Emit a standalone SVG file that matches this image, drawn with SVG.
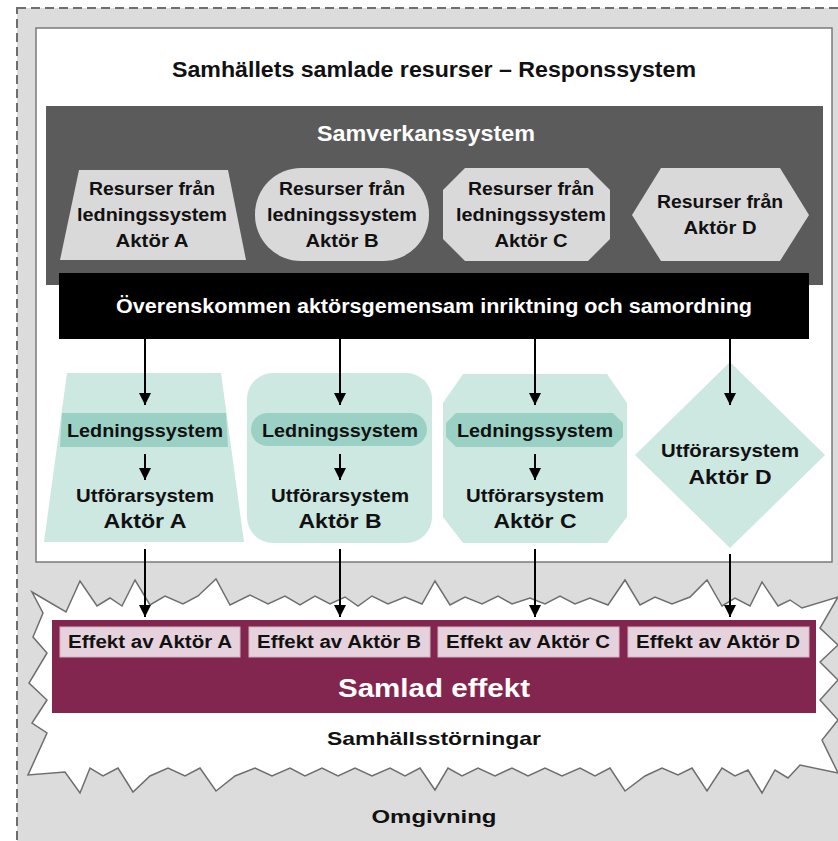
<svg xmlns="http://www.w3.org/2000/svg" width="838" height="841" viewBox="0 0 838 841">
<defs>
<style>
text{font-family:"Liberation Sans",Arial,sans-serif;font-weight:bold;text-anchor:middle;fill:#111}
.res{fill:#d9d9d9}
.grn{fill:#cde7e1}
.band{fill:#9bd1c4}
.eff{fill:#e6d2dc;stroke:#cfb3c0;stroke-width:1}
.conn{stroke:#000;stroke-width:2;fill:none;marker-end:url(#ah)}
.t18{font-size:19px}
.t19{font-size:19px}
.lg{font-size:18.5px}
.ak{font-size:21px}
.ef{font-size:17.5px}
.w{fill:#fff}
</style>
<marker id="ah" viewBox="0 0 10 10" refX="10" refY="5" markerWidth="6" markerHeight="6" markerUnits="strokeWidth" orient="auto">
<path d="M0,0 L10,5 L0,10 z" fill="#000"/>
</marker>
</defs>

<g id="omgivning">
<rect x="17" y="8" width="840" height="850" fill="#dcdcdc" stroke="#6e6e6e" stroke-width="2" stroke-dasharray="9,5"/>
<text x="434" y="823" class="t19" textLength="125" lengthAdjust="spacingAndGlyphs">Omgivning</text>
</g>

<g id="responssystem">
<rect x="36" y="28" width="796" height="534" fill="#fff" stroke="#7a7a7a" stroke-width="1.5"/>
<text x="434" y="77" style="font-size:22px" textLength="524" lengthAdjust="spacingAndGlyphs">Samhällets samlade resurser – Responssystem</text>
</g>

<g id="samverkanssystem">
<rect x="46" y="106" width="777" height="179" fill="#5b5b5b"/>
<text x="426" y="141" style="font-size:22px;fill:#fff" textLength="218" lengthAdjust="spacingAndGlyphs">Samverkanssystem</text>
</g>

<g id="resurser-a">
<polygon class="res" points="79,170 228,170 246,260 60,260"/>
<text x="152" y="195" class="t18" textLength="126" lengthAdjust="spacingAndGlyphs">Resurser från</text>
<text x="152" y="221" class="t18" textLength="150" lengthAdjust="spacingAndGlyphs">ledningssystem</text>
<text x="152" y="247" class="t18" textLength="73" lengthAdjust="spacingAndGlyphs">Aktör A</text>
</g>
<g id="resurser-b">
<rect class="res" x="255" y="168" width="174" height="93" rx="46" ry="46"/>
<text x="342" y="195" class="t18" textLength="126" lengthAdjust="spacingAndGlyphs">Resurser från</text>
<text x="342" y="221" class="t18" textLength="150" lengthAdjust="spacingAndGlyphs">ledningssystem</text>
<text x="342" y="247" class="t18" textLength="73" lengthAdjust="spacingAndGlyphs">Aktör B</text>
</g>
<g id="resurser-c">
<polygon class="res" points="465,168 588,168 610,190 610,239 588,261 465,261 443,239 443,190"/>
<text x="531" y="195" class="t18" textLength="126" lengthAdjust="spacingAndGlyphs">Resurser från</text>
<text x="531" y="221" class="t18" textLength="150" lengthAdjust="spacingAndGlyphs">ledningssystem</text>
<text x="531" y="247" class="t18" textLength="73" lengthAdjust="spacingAndGlyphs">Aktör C</text>
</g>
<g id="resurser-d">
<polygon class="res" points="661,168 780,168 809,215 780,261 661,261 632,215"/>
<text x="720" y="208" class="t18" textLength="126" lengthAdjust="spacingAndGlyphs">Resurser från</text>
<text x="720" y="234" class="t18" textLength="73" lengthAdjust="spacingAndGlyphs">Aktör D</text>
</g>

<g id="inriktning">
<rect x="59" y="273" width="750" height="66" fill="#000"/>
<text x="434" y="313" style="font-size:20px;fill:#fff" textLength="636" lengthAdjust="spacingAndGlyphs">Överenskommen aktörsgemensam inriktning och samordning</text>
</g>

<g id="aktor-a">
<polygon class="grn" points="67,373 221,373 244,542 44,542"/>
<polygon class="band" points="62,413 226,413 228,447 60,447"/>
<text x="145" y="437" class="lg" textLength="156" lengthAdjust="spacingAndGlyphs">Ledningssystem</text>
<text x="145" y="502" class="lg" textLength="138" lengthAdjust="spacingAndGlyphs">Utförarsystem</text>
<text x="145" y="528" class="ak" textLength="83" lengthAdjust="spacingAndGlyphs">Aktör A</text>
</g>
<g id="aktor-b">
<rect class="grn" x="247" y="373" width="185" height="170" rx="26" ry="26"/>
<rect class="band" x="251" y="413" width="176" height="33" rx="16.5" ry="16.5"/>
<text x="340" y="437" class="lg" textLength="156" lengthAdjust="spacingAndGlyphs">Ledningssystem</text>
<text x="340" y="502" class="lg" textLength="138" lengthAdjust="spacingAndGlyphs">Utförarsystem</text>
<text x="340" y="528" class="ak" textLength="83" lengthAdjust="spacingAndGlyphs">Aktör B</text>
</g>
<g id="aktor-c">
<polygon class="grn" points="463,374 607,374 627,403 627,517 607,543 463,543 443,517 443,403"/>
<polygon class="band" points="456,413 613,413 623,423 623,437 613,447 456,447 446,437 446,423"/>
<text x="535" y="437" class="lg" textLength="156" lengthAdjust="spacingAndGlyphs">Ledningssystem</text>
<text x="535" y="502" class="lg" textLength="138" lengthAdjust="spacingAndGlyphs">Utförarsystem</text>
<text x="535" y="528" class="ak" textLength="83" lengthAdjust="spacingAndGlyphs">Aktör C</text>
</g>
<g id="aktor-d">
<polygon class="grn" points="730,362 825,455 730,548 635,455"/>
<text x="730" y="457" class="lg" textLength="138" lengthAdjust="spacingAndGlyphs">Utförarsystem</text>
<text x="730" y="484" class="ak" textLength="83" lengthAdjust="spacingAndGlyphs">Aktör D</text>
</g>

<g id="samhallsstorningar">
<path fill="#fff" stroke="#6e6e6e" stroke-width="1.5" d="M32,592 L66,612 L80,581 L97,606 L110,598 L122,606 L135,580 L150,605 L165,596 L183,604 L198,596 L216,579 L230,605 L250,595 L268,604 L285,596 L300,605 L315,596 L330,604 L345,597 L358,606 L372,596 L388,604 L405,597 L422,604 L435,581 L450,605 L465,597 L482,604 L498,596 L512,604 L530,598 L545,604 L560,596 L575,604 L590,598 L608,605 L625,580 L640,605 L655,597 L672,604 L690,597 L707,580 L722,606 L735,598 L750,606 L762,582 L778,606 L790,600 L802,608 L838,597 L820,628 L838,645 L820,662 L838,680 L820,700 L838,720 L822,740 L838,773 L800,765 L788,778 L775,770 L762,793 L748,770 L735,776 L722,768 L707,791 L692,768 L678,775 L662,768 L645,776 L625,791 L610,768 L595,776 L580,768 L562,776 L545,768 L528,776 L512,768 L495,776 L478,768 L462,776 L448,768 L435,790 L420,768 L405,776 L390,768 L372,776 L355,768 L338,776 L322,768 L305,776 L290,768 L272,776 L255,768 L235,776 L216,791 L200,768 L185,776 L168,768 L150,776 L133,792 L118,768 L103,776 L90,768 L80,793 L65,772 L28,775 L47,733 L32,723 L47,700 L29,683 L47,653 L33,637 L43,613 Z"/>
<text x="434" y="745" class="t19" textLength="214" lengthAdjust="spacingAndGlyphs">Samhällsstörningar</text>
</g>

<g id="samlad-effekt">
<rect x="52" y="620" width="764" height="93" fill="#83264f"/>
<text x="434" y="697" style="font-size:26px;fill:#fff" textLength="192" lengthAdjust="spacingAndGlyphs">Samlad effekt</text>
</g>
<g id="effekt-a">
<rect class="eff" x="60" y="627" width="180" height="30"/>
<text x="150" y="648" class="ef" textLength="164" lengthAdjust="spacingAndGlyphs">Effekt av Aktör A</text>
</g>
<g id="effekt-b">
<rect class="eff" x="249" y="627" width="181" height="30"/>
<text x="339" y="648" class="ef" textLength="164" lengthAdjust="spacingAndGlyphs">Effekt av Aktör B</text>
</g>
<g id="effekt-c">
<rect class="eff" x="438" y="627" width="181" height="30"/>
<text x="528" y="648" class="ef" textLength="164" lengthAdjust="spacingAndGlyphs">Effekt av Aktör C</text>
</g>
<g id="effekt-d">
<rect class="eff" x="628" y="627" width="181" height="30"/>
<text x="718" y="648" class="ef" textLength="164" lengthAdjust="spacingAndGlyphs">Effekt av Aktör D</text>
</g>

<g id="connectors">
<line class="conn" x1="145" y1="339" x2="145" y2="405"/>
<line class="conn" x1="340" y1="339" x2="340" y2="405"/>
<line class="conn" x1="535" y1="339" x2="535" y2="405"/>
<line class="conn" x1="730" y1="339" x2="730" y2="405"/>
<line class="conn" x1="145" y1="454" x2="145" y2="480"/>
<line class="conn" x1="340" y1="454" x2="340" y2="480"/>
<line class="conn" x1="535" y1="454" x2="535" y2="480"/>
<line class="conn" x1="145" y1="549" x2="145" y2="617"/>
<line class="conn" x1="340" y1="549" x2="340" y2="617"/>
<line class="conn" x1="535" y1="549" x2="535" y2="617"/>
<line class="conn" x1="730" y1="554" x2="730" y2="617"/>
</g>
</svg>
